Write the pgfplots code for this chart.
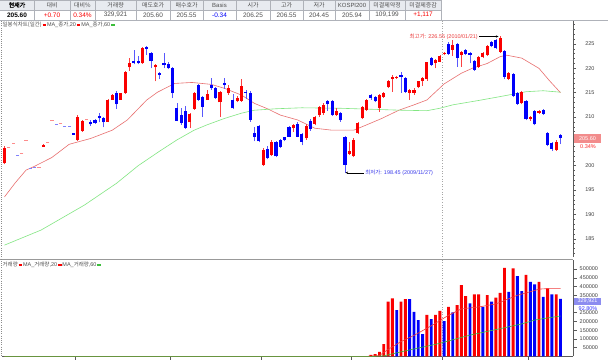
\documentclass[border=0pt]{standalone}
\usepackage{pgfplots}
\pgfplotsset{compat=1.18}
\usepackage{pgfplotstable}
\usepackage{fontspec}
\setmainfont{Liberation Sans}
\newfontfamily\kr{Noto Sans CJK KR}
\newfontfamily\krb[FakeBold=1.5]{Noto Sans CJK KR}
\usetikzlibrary{arrows.meta}

\definecolor{upred}{RGB}{250,0,0}
\definecolor{dnblue}{RGB}{0,0,250}
\definecolor{ma20c}{RGB}{232,112,112}
\definecolor{ma60c}{RGB}{130,230,130}
\definecolor{vma20}{RGB}{240,60,60}
\definecolor{vma60}{RGB}{60,190,60}
\definecolor{hdrbg}{RGB}{232,235,240}
\definecolor{hdrline}{RGB}{175,178,185}
\definecolor{txtgray}{RGB}{80,80,80}
\definecolor{axgray}{RGB}{90,90,90}
\definecolor{hilab}{RGB}{235,60,60}
\definecolor{lolab}{RGB}{60,60,235}
\definecolor{pricebox}{RGB}{242,140,140}
\definecolor{volbox}{RGB}{140,140,240}

\newcommand\fs[1]{\fontsize{#1}{#1}\selectfont}
\newcommand\swatch[1]{\textcolor{#1}{\rule[0.9bp]{3.5bp}{1.5bp}}}

\pgfplotstableread{
i o h l c
0 200.5 204.1 200.3 203.7
9 203.9 204.4 203.8 204.3
17 205.2 210.5 205.0 210.1
18 207.1 209.4 207.0 209.2
24 209.0 213.8 208.9 213.6
25 213.6 214.7 213.5 214.5
27 213.6 215.0 213.5 214.9
28 214.9 219.5 214.8 219.3
29 220.2 222.2 219.5 221.0
32 221.0 224.4 220.9 224.2
35 220.2 220.9 217.3 220.7
43 208.9 210.8 207.7 210.6
44 211.7 215.1 211.5 214.9
47 213.6 215.6 213.5 214.7
50 213.0 215.3 210.1 215.1
52 214.9 216.5 214.6 215.9
54 213.2 214.3 213.0 214.0
55 213.3 217.9 213.1 216.4
60 200.2 203.6 199.9 203.2
62 202.2 205.3 202.0 204.8
67 207.7 208.6 207.0 208.4
70 205.6 208.5 205.3 208.2
72 208.6 210.3 208.3 210.0
73 210.4 212.3 210.0 212.0
74 210.8 212.8 210.5 212.5
77 210.4 211.8 210.2 211.2
80 202.4 204.9 202.2 203.0
81 201.9 205.6 201.7 205.3
82 206.7 209.0 206.5 208.8
83 209.7 212.3 209.5 212.1
84 211.4 213.8 211.2 213.5
87 211.8 214.7 211.1 214.5
88 214.2 215.1 213.9 214.9
89 216.1 217.6 215.9 217.3
90 217.8 218.6 215.2 218.3
91 218.0 218.5 217.8 218.3
94 214.9 215.7 213.5 215.5
95 215.0 216.0 214.6 215.6
96 216.1 217.5 215.9 217.3
97 217.3 218.3 216.4 218.0
98 217.8 221.4 217.4 221.2
100 221.0 221.9 220.0 221.7
101 221.4 222.7 221.2 222.5
102 222.9 223.4 222.7 223.2
104 223.8 225.8 222.6 224.8
106 222.7 223.6 220.3 223.4
110 220.3 222.6 220.1 222.4
111 222.3 223.3 222.1 223.1
112 222.7 224.7 222.5 224.5
115 223.4 226.55 223.2 226.3
117 217.8 219.3 217.6 219.1
120 212.8 215.4 212.6 215.2
122 209.5 210.2 209.2 210.0
124 210.8 211.5 210.6 211.3
128 203.2 205.3 203.0 204.9
}\upc

\pgfplotstableread{
i o h l c
16 206.7 206.8 206.3 206.4
20 209.0 209.3 208.2 208.5
21 209.4 209.5 208.6 208.7
22 210.2 210.8 208.9 209.7
23 209.9 210.0 207.9 208.9
26 215.0 215.3 211.7 212.6
30 221.5 223.8 220.8 221.0
31 221.5 222.6 220.8 221.0
33 224.4 224.6 222.8 224.0
34 223.1 223.3 220.0 221.5
36 219.1 219.2 217.8 218.6
37 221.0 223.1 220.0 220.6
38 220.8 221.3 219.8 220.0
39 220.1 220.2 213.9 214.9
40 211.8 212.8 209.1 209.2
41 210.4 211.8 208.4 208.7
42 211.2 212.3 207.6 207.8
45 216.6 216.8 213.3 213.5
46 214.2 214.4 210.1 212.1
48 216.6 218.1 215.6 215.9
49 215.9 216.1 213.8 214.0
51 216.9 218.0 215.8 216.6
53 213.6 214.8 211.6 211.8
56 215.2 215.6 213.7 214.9
57 215.0 215.3 209.0 209.4
58 206.7 208.0 205.0 206.0
59 208.2 208.4 204.8 205.0
61 203.4 204.0 201.3 201.5
63 204.8 205.0 201.7 201.9
64 205.3 205.5 203.6 203.9
65 205.8 206.0 205.0 205.3
66 208.0 208.2 205.8 206.0
68 208.5 209.0 205.8 206.0
69 206.5 206.7 204.2 204.9
71 209.2 209.5 207.2 207.5
75 213.2 213.6 211.3 212.7
76 213.2 213.5 210.2 210.4
78 210.8 211.0 209.0 209.3
79 206.0 206.2 198.45 200.2
85 214.5 214.7 213.6 213.9
86 214.2 214.4 213.0 213.2
92 218.6 219.2 215.0 218.2
93 218.0 218.2 215.0 215.2
99 222.1 222.4 220.5 220.7
103 225.0 225.4 222.7 222.9
105 225.0 225.2 220.3 222.1
107 223.8 224.0 222.7 222.9
108 223.1 223.3 221.0 222.7
109 221.6 221.8 219.5 219.7
113 225.5 225.7 224.3 224.5
114 225.8 226.0 223.9 224.1
116 223.6 223.8 217.8 218.3
118 218.8 219.0 214.1 214.3
119 214.9 215.1 212.5 212.7
121 213.2 213.4 209.3 209.5
123 211.2 211.4 208.3 208.5
125 211.4 211.6 210.5 210.6
126 206.8 207.0 204.0 204.3
127 204.6 204.8 203.0 203.4
129 206.25 206.55 204.45 205.60
}\dnc

\pgfplotstableread{
i v
1 203.8
2 204.5
4 202.5
5 205.2
8 199.6
10 204.8
11 209.3
13 208.7
19 209.6
}\flatred

\pgfplotstableread{
i v
3 202.2
6 199.5
7 199.6
12 208.4
14 208.1
15 208.1
}\flatblue

\pgfplotstableread{
i v
85 9000
86 13000
87 26000
88 70000
89 313000
90 332000
92 313000
93 328000
98 237000
100 237000
101 260000
103 284000
105 294000
106 408000
107 345000
109 355000
110 355000
112 351000
114 336000
115 364000
116 507000
118 504000
121 466000
124 427000
126 389000
128 355000
}\volred

\pgfplotstableread{
i v
91 265000
94 328000
95 255000
96 208000
97 128000
99 214000
102 202000
104 252000
108 303000
111 284000
113 313000
117 370000
119 460000
120 374000
122 427000
123 412000
125 341000
127 355000
129 329921
}\volblue

\begin{document}
\begin{tikzpicture}[x=1bp,y=1bp]
\path[use as bounding box] (0,0) rectangle (608,360);
\fill[white] (0,0) rectangle (608,360);

% ---------------- price pane ----------------
\begin{axis}[
  at={(2bp,103bp)}, anchor=south west, scale only axis,
  width=571bp, height=236bp,
  xmin=-0.58, xmax=131.9, ymin=181.26, ymax=229.72,
  axis x line=none, axis y line*=right,
  axis line style={draw=axgray, line width=0.6bp},
  ytick={185,190,195,200,210,215,220,225},
  extra y ticks={205}, extra y tick labels={},
  minor ytick={182,183,...,229},
  tick align=outside,
  major tick length=3bp, minor tick length=1.6bp,
  tick style={draw=axgray, line width=0.5bp},
  yticklabel style={font=\fs{5.5}, text=black!75, anchor=east, xshift=22bp},
  /pgf/number format/assume math mode=true,
]
\draw[black!35, dotted, line width=0.6bp] (axis cs:101.5,181.26) -- (axis cs:101.5,229.72);

\addplot[ma20c, line width=0.6bp, mark=none] coordinates {
(0,193.6) (2.5,196.5) (5,199.1) (7,199.9) (11,201.7) (15,204.4) (20,205.6) (25,207.3)
(28.5,209.4) (33,213.5) (35.5,215.1) (39.5,216.9) (43.5,217.1) (48,216.7) (51,215.9)
(55,214.5) (58,212.8) (61,211.7) (64,210.4) (68,209.4) (72,207.7) (76,207.3) (81,207.3)
(83.5,208.2) (87.5,209.7) (91.5,211.4) (95,212.5) (98,213.5) (102,216.8) (106,219.0)
(108.5,220.0) (112,221.0) (115,222.4) (116.5,222.7) (120,222.1) (124,220.0) (126.5,217.4) (129,215.0)};

\addplot[ma60c, line width=0.6bp, mark=none] coordinates {
(0,183.7) (8.5,186.8) (18.5,191.9) (26,196.4) (31,200.0) (36,203.0) (40,205.3) (44,207.3)
(47,208.4) (51,209.7) (55,210.8) (58,211.4) (63,211.7) (69,211.9) (78,211.8) (85,211.6)
(92,211.4) (98,211.3) (101,211.8) (104,212.5) (110,213.4) (115,214.2) (121,215.2) (125,215.4) (129,215.1)};

% flat (no-trade) dashes
\addplot[only marks, mark=-, mark size=1.6bp, mark options={draw=upred!45, line width=0.8bp}] table[x=i,y=v] {\flatred};
\addplot[only marks, mark=-, mark size=1.6bp, mark options={draw=dnblue!50, line width=0.8bp}] table[x=i,y=v] {\flatblue};

% wicks
\addplot[draw=none, mark=none, error bars/.cd, y dir=plus, y explicit, error mark=none,
  error bar style={draw=upred!75, line width=0.6bp}]
  table[x=i, y=l, y error expr=\thisrow{h}-\thisrow{l}] {\upc};
\addplot[draw=none, mark=none, error bars/.cd, y dir=plus, y explicit, error mark=none,
  error bar style={draw=dnblue!65, line width=0.6bp}]
  table[x=i, y=l, y error expr=\thisrow{h}-\thisrow{l}] {\dnc};
% bodies
\addplot[draw=none, mark=none, error bars/.cd, y dir=plus, y explicit, error mark=none,
  error bar style={draw=upred, line width=3.1bp}]
  table[x=i, y=o, y error expr=\thisrow{c}-\thisrow{o}] {\upc};
\addplot[draw=none, mark=none, error bars/.cd, y dir=plus, y explicit, error mark=none,
  error bar style={draw=dnblue, line width=3.1bp}]
  table[x=i, y=c, y error expr=\thisrow{o}-\thisrow{c}] {\dnc};
\end{axis}

% high / low annotations (pixel positions of the reference)
\draw[black, line width=0.4bp, -{Stealth[length=2.6bp,width=2.2bp]}] (479,323.5) -- (498.5,323.5);
\node[anchor=east, inner sep=0.6bp, text=hilab, font=\fs{5.5}] at (478.5,323.5) {{\kr 최고가}: 226.55 (2010/01/21)};
\draw[black, line width=0.4bp, {Stealth[length=2.6bp,width=2.2bp]}-] (345.5,187.3) -- (364,187.3);
\node[anchor=west, inner sep=0.6bp, text=lolab, font=\fs{5.5}] at (364.5,187.3) {{\kr 최저가}: 198.45 (2009/11/27)};

% ---------------- volume pane ----------------
\begin{axis}[
  at={(2bp,3.6bp)}, anchor=south west, scale only axis,
  width=571bp, height=96.1bp,
  xmin=-0.58, xmax=131.9, ymin=0, ymax=550000,
  axis x line*=bottom, axis y line*=right,
  axis line style={draw=axgray, line width=0.6bp},
  xtick={16.5,38.5,59.5,80.5,101.5,121.5}, xticklabels={},
  ytick={50000,100000,150000,200000,250000,350000,400000,450000,500000},
  extra y ticks={300000}, extra y tick labels={},
  scaled y ticks=false,
  yticklabel style={font=\fs{5.5}, text=black!75, anchor=east, xshift=25bp,
    /pgf/number format/fixed, /pgf/number format/1000 sep={}},
  tick align=outside, major tick length=3.5bp,
  tick style={draw=axgray, line width=0.5bp},
  /pgf/number format/assume math mode=true,
]
\draw[black!35, dotted, line width=0.6bp] (axis cs:101.5,0) -- (axis cs:101.5,550000);
\addplot[ybar, bar width=2.9bp, bar shift=0pt, fill=upred, draw=none] table[x=i,y=v] {\volred};
\addplot[ybar, bar width=2.9bp, bar shift=0pt, fill=dnblue, draw=none] table[x=i,y=v] {\volblue};
\addplot[vma20, line width=0.6bp, mark=none] coordinates {
(0,0) (84,0) (87,5000) (89,40000) (92,85000) (95,120000) (99,175000) (103,235000) (106,272000)
(110,283000) (114,300000) (117,330000) (119,350000) (122,370000) (124,385000) (126,388000) (129,388000)};
\addplot[vma60, line width=0.6bp, mark=none] coordinates {
(0,0) (85,0) (88,3000) (92,26000) (96,48000) (100,69000) (104,95000) (108,122000) (112,143000)
(116,164000) (120,186000) (123,208000) (126,220000) (129,231000)};
\end{axis}

% separator and left border
\draw[black!40, line width=1.2bp] (0,100.5) -- (573,100.5);
\draw[black!45, line width=0.6bp, dash pattern=on 1bp off 1.2bp] (1.3,339) -- (1.3,3.6);

% right-side value boxes
\fill[pricebox] (574,217) rectangle (601,226.5);
\node[text=white, font=\fs{5.5}] at (587.5,221.75) {205.60};
\node[text=upred!85, font=\fs{5.5}] at (588,213.3) {0.34\%};
\fill[volbox] (574,55) rectangle (601,62.3);
\node[text=white, font=\fs{5.5}] at (587.5,58.65) {329,921};
\node[text=dnblue!80, font=\fs{5.5}] at (588,51.6) {92.80\%};

% legends
\node[anchor=west, inner sep=0pt, text=txtgray, font=\fs{5.5}] at (2.5,335) {{\kr 일봉식차트(일간)}\,\swatch{upred}\,MA\_{\kr 종가},20\,\swatch{upred}\,MA\_{\kr 종가},60\,\swatch{vma60}};
\node[anchor=west, inner sep=0pt, text=txtgray, font=\fs{5.5}] at (2.5,95) {{\kr 거래량}\,\swatch{upred}\,MA\_{\kr 거래량},20\,\swatch{upred}\,MA\_{\kr 거래량},60\,\swatch{vma60}};

% header table
\fill[hdrbg] (0,350) rectangle (441,360);
\draw[hdrline, line width=0.5bp] (0,359.75) -- (441,359.75);
\draw[hdrline, line width=0.5bp] (0,350) -- (441,350);
\draw[hdrline, line width=0.6bp] (0,340) -- (608,340);
\foreach \x in {34,70,95,136,170,203,236,270,303,335,369,405,441}
  \draw[hdrline, line width=0.5bp] (\x,340) -- (\x,360);
\node[font=\krb\fs{6}, text=black] at (17,355) {현재가};
\foreach \x/\t in {52/대비,82.5/대비\%,115.5/거래량,153/매도호가,186.5/매수호가,253/시가,286.5/고가,319/저가,387/미결제약정,423/미결제증감}
  \node[font=\kr\fs{6}, text=txtgray] at (\x,355) {\t};
\node[font=\fs{6}, text=txtgray] at (219.5,355) {Basis};
\node[font=\fs{6}, text=txtgray] at (352,355) {KOSPI200};
\node[font=\bfseries\fs{6.5}] at (17,345) {205.60};
\node[font=\fs{6.5}, text=upred] at (52,345) {+0.70};
\node[font=\fs{6.5}, text=upred] at (82.5,345) {0.34\%};
\node[font=\fs{6.5}, text=txtgray] at (115.5,345) {329,921};
\node[font=\fs{6.5}, text=txtgray] at (153,345) {205.60};
\node[font=\fs{6.5}, text=txtgray] at (186.5,345) {205.55};
\node[font=\fs{6.5}, text=dnblue] at (219.5,345) {-0.34};
\node[font=\fs{6.5}, text=txtgray] at (253,345) {206.25};
\node[font=\fs{6.5}, text=txtgray] at (286.5,345) {206.55};
\node[font=\fs{6.5}, text=txtgray] at (319,345) {204.45};
\node[font=\fs{6.5}, text=txtgray] at (352,345) {205.94};
\node[font=\fs{6.5}, text=txtgray] at (387,345) {109,199};
\node[font=\fs{6.5}, text=upred] at (423,345) {+1,117};
\end{tikzpicture}
\end{document}
